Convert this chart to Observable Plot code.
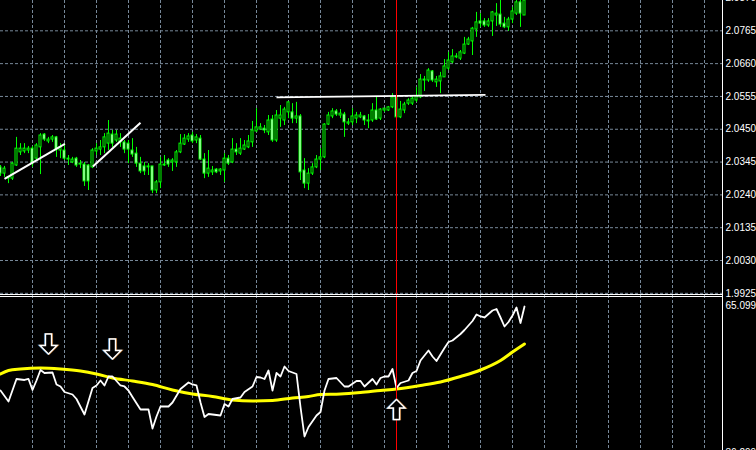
<!DOCTYPE html>
<html><head><meta charset="utf-8">
<script src="https://cdn.jsdelivr.net/npm/d3@7"></script>
<script src="https://cdn.jsdelivr.net/npm/@observablehq/plot@0.6"></script>
<style>
html,body{margin:0;padding:0;background:#000;width:756px;height:450px;overflow:hidden}
#top{position:relative;z-index:1;height:295px}
#bot{position:relative;z-index:0}
#top svg,#bot svg{display:block}
#top svg{overflow:visible}
</style></head><body>
<div id="top"></div><div id="bot"></div>
<script>
// ---- price candles (bar index 0..131) ----
const candleOpen = [2.0328,2.0308,2.0292,2.0292,2.0334,2.0376,2.0379,2.0382,2.0388,2.0356,2.0392,2.0433,2.0411,2.0417,2.0424,2.0382,2.0382,2.0353,2.0344,2.0356,2.0337,2.0337,2.0334,2.0328,2.0379,2.0385,2.0392,2.0404,2.0433,2.0414,2.0408,2.0408,2.0404,2.0382,2.0372,2.0340,2.0331,2.0328,2.0331,2.0254,2.0280,2.0334,2.0350,2.0344,2.0344,2.0376,2.0401,2.0417,2.0430,2.0414,2.0420,2.0353,2.0308,2.0312,2.0321,2.0315,2.0318,2.0356,2.0344,2.0385,2.0372,2.0385,2.0392,2.0408,2.0443,2.0449,2.0452,2.0440,2.0481,2.0414,2.0484,2.0478,2.0504,2.0504,2.0484,2.0491,2.0318,2.0276,2.0308,2.0328,2.0353,2.0360,2.0465,2.0491,2.0507,2.0494,2.0497,2.0468,2.0472,2.0484,2.0488,2.0491,2.0475,2.0478,2.0510,2.0484,2.0510,2.0510,2.0520,2.0555,2.0488,2.0510,2.0532,2.0532,2.0542,2.0552,2.0606,2.0606,2.0635,2.0600,2.0603,2.0616,2.0644,2.0664,2.0680,2.0676,2.0692,2.0721,2.0731,2.0769,2.0795,2.0795,2.0782,2.0795,2.0814,2.0817,2.0788,2.0776,2.0801,2.0820,2.0856,2.0814];
const candleHigh = [2.0334,2.0331,2.0299,2.0344,2.0424,2.0404,2.0404,2.0395,2.0395,2.0404,2.0436,2.0436,2.0424,2.0430,2.0427,2.0404,2.0404,2.0366,2.0360,2.0360,2.0350,2.0344,2.0337,2.0388,2.0404,2.0414,2.0436,2.0478,2.0446,2.0446,2.0436,2.0414,2.0414,2.0420,2.0392,2.0360,2.0344,2.0340,2.0331,2.0286,2.0360,2.0366,2.0356,2.0356,2.0382,2.0433,2.0433,2.0436,2.0440,2.0433,2.0430,2.0372,2.0382,2.0331,2.0324,2.0324,2.0372,2.0366,2.0420,2.0404,2.0420,2.0414,2.0430,2.0475,2.0516,2.0468,2.0462,2.0494,2.0494,2.0510,2.0526,2.0520,2.0539,2.0532,2.0536,2.0497,2.0356,2.0324,2.0340,2.0366,2.0388,2.0468,2.0504,2.0516,2.0513,2.0513,2.0504,2.0484,2.0516,2.0504,2.0504,2.0494,2.0497,2.0532,2.0552,2.0516,2.0516,2.0523,2.0564,2.0564,2.0539,2.0536,2.0548,2.0558,2.0584,2.0625,2.0619,2.0644,2.0638,2.0619,2.0632,2.0673,2.0696,2.0705,2.0692,2.0702,2.0744,2.0744,2.0776,2.0824,2.0820,2.0804,2.0804,2.0827,2.0852,2.0862,2.0808,2.0808,2.0840,2.0862,2.0862,2.0868];
const candleLow = [2.0299,2.0296,2.0276,2.0286,2.0331,2.0366,2.0372,2.0372,2.0328,2.0350,2.0305,2.0411,2.0404,2.0408,2.0360,2.0356,2.0350,2.0334,2.0340,2.0328,2.0324,2.0267,2.0254,2.0324,2.0366,2.0366,2.0372,2.0382,2.0392,2.0408,2.0392,2.0372,2.0340,2.0360,2.0328,2.0308,2.0302,2.0302,2.0244,2.0244,2.0260,2.0331,2.0328,2.0315,2.0328,2.0372,2.0398,2.0408,2.0404,2.0404,2.0350,2.0292,2.0296,2.0302,2.0308,2.0302,2.0280,2.0334,2.0340,2.0366,2.0366,2.0382,2.0388,2.0392,2.0440,2.0446,2.0436,2.0430,2.0408,2.0408,2.0456,2.0462,2.0484,2.0468,2.0468,2.0286,2.0260,2.0254,2.0302,2.0324,2.0318,2.0356,2.0462,2.0484,2.0491,2.0484,2.0424,2.0462,2.0462,2.0468,2.0484,2.0462,2.0452,2.0472,2.0478,2.0478,2.0504,2.0507,2.0516,2.0484,2.0484,2.0500,2.0526,2.0526,2.0536,2.0548,2.0571,2.0600,2.0600,2.0584,2.0564,2.0616,2.0638,2.0660,2.0676,2.0670,2.0689,2.0718,2.0686,2.0744,2.0776,2.0776,2.0776,2.0747,2.0779,2.0776,2.0772,2.0763,2.0788,2.0814,2.0776,2.0814];
const candleClose = [2.0308,2.0324,2.0296,2.0340,2.0388,2.0388,2.0388,2.0388,2.0340,2.0398,2.0430,2.0417,2.0417,2.0424,2.0385,2.0392,2.0356,2.0356,2.0353,2.0334,2.0340,2.0283,2.0283,2.0382,2.0388,2.0392,2.0424,2.0436,2.0404,2.0433,2.0420,2.0385,2.0385,2.0369,2.0340,2.0315,2.0315,2.0331,2.0254,2.0280,2.0337,2.0337,2.0337,2.0350,2.0376,2.0404,2.0420,2.0427,2.0411,2.0424,2.0353,2.0308,2.0324,2.0318,2.0312,2.0321,2.0356,2.0340,2.0385,2.0376,2.0388,2.0398,2.0411,2.0446,2.0456,2.0456,2.0446,2.0478,2.0414,2.0494,2.0494,2.0513,2.0536,2.0484,2.0491,2.0312,2.0276,2.0308,2.0328,2.0353,2.0360,2.0465,2.0494,2.0507,2.0497,2.0500,2.0472,2.0472,2.0491,2.0494,2.0494,2.0478,2.0478,2.0510,2.0481,2.0513,2.0516,2.0520,2.0552,2.0488,2.0513,2.0529,2.0542,2.0548,2.0555,2.0609,2.0609,2.0638,2.0606,2.0609,2.0619,2.0651,2.0670,2.0683,2.0683,2.0696,2.0721,2.0737,2.0772,2.0792,2.0788,2.0782,2.0795,2.0824,2.0820,2.0785,2.0776,2.0801,2.0827,2.0856,2.0820,2.0862];
const priceTicks = [2.0870, 2.0765, 2.0660, 2.0555, 2.0450, 2.0345, 2.0240, 2.0135, 2.0030, 1.9925];
const gridBars = [8,16,24,32,40,48,56,64,72,80,88,96,104,112,120,128,136,144,152,160,168,176];
const signalBar = 99;
// drawn trend lines (bar index, price)
const trendStartBar = [1, 23.1, 69];
const trendStartPrice = [2.0291, 2.0331, 2.0552];
const trendEndBar = [16.1, 35, 121.25];
const trendEndPrice = [2.0403, 2.0471, 2.0560];
// ---- indicator window ----
const rsiBar = [0,2,4,6,7,8,9,10,11,13,14,15,16,18,19,21,23,24,25,26,27,28,30,31,32,33,35,37,38,39,40,42,43,45,47,48,49,50,51,52,55,56,57,58,60,61,63,64,65,66,67,68,69,70,71,72,74,75,76,77,79,80,81,82,84,86,87,89,90,91,93,94,95,96,97,98,99,100,102,103,104,105,106,107,108,109,111,112,113,115,116,117,118,119,120,121,123,124,125,126,127,128,129,130,131];
const rsiValue = [48.3,46.1,50.6,50.4,50.6,48.4,50.3,52.4,51.8,51.9,49.5,49.1,48.0,47.5,46.6,43.5,48.8,49.3,50.3,49.3,51.1,51.1,49.3,49.1,48.3,47.0,44.5,44.5,40.7,43.1,45.1,45.1,45.9,48.6,49.9,49.5,49.3,45.9,43.0,43.6,43.3,45.6,45.1,46.6,46.9,48.0,49.1,51.0,50.9,50.6,52.3,48.3,51.8,51.1,53.1,52.2,51.6,45.0,39.1,41.0,43.3,44.0,48.3,50.6,50.8,49.1,49.1,50.2,50.2,49.1,50.6,49.5,50.8,51.1,51.1,52.6,48.8,49.8,50.3,51.8,52.2,54.3,55.3,56.3,55.1,54.2,56.8,58.0,58.3,59.6,60.4,61.3,62.2,63.5,63.1,62.9,64.3,64.6,62.9,61.1,62.0,63.3,64.9,61.8,65.0996];
const maBar = [0,2,5,10,15,20,24,28,33,38,43,48,53,58,63,68,73,77,80,85,90,95,99,105,110,115,120,125,128,131];
const maValue = [51.6,52.3,52.6,52.8,52.6,52.2,51.6,50.8,50.2,49.5,48.4,47.6,47.1,46.4,46.2,46.3,46.8,47.1,47.5,47.6,47.9,48.3,48.6,49.3,50.0,51.1,52.4,54.3,56.0,57.6];
const arrowBar = [12, 28, 99];
const arrowValue = [57.6, 56.6, 44.5];
const arrowDir = ["down", "down", "up"];
const indicatorMax = [65.0996];
const indicatorMin = [36.2996];

// ---- build tables ----
const candles = candleOpen.map((o, i) => ({i, open: o, high: candleHigh[i], low: candleLow[i], close: candleClose[i]}));
const bulls = candles.filter(d => d.close >= d.open);
const bears = candles.filter(d => d.close < d.open);
const trends = trendStartBar.map((b, i) => ({x1: b, y1: trendStartPrice[i], x2: trendEndBar[i], y2: trendEndPrice[i]}));
const rsi = rsiBar.map((b, i) => ({b, v: rsiValue[i]}));
const ma = maBar.map((b, i) => ({b, v: maValue[i]}));
const arrows = arrowBar.map((b, i) => ({b, v: arrowValue[i], dir: arrowDir[i]}));

const GRID = "#778899", LIME = "#00ff00";
const xScale = {domain: [0, 180.5], axis: null};
const baseStyle = {background: "#000", color: "#fff", fontFamily: "'Liberation Sans', Arial, sans-serif", fontSize: "10px"};
const common = {width: 756, marginLeft: 0, marginRight: 34, marginTop: 0, marginBottom: 0};
const axisOpts = {anchor: "right", tickSize: 0, tickPadding: 3, tickFormat: d => d.toFixed(4), fill: "#fff", label: null};

function arrowSymbol(up) {
  return {
    draw(ctx, size) {
      const s = Math.sqrt(size / Math.PI) / 10;
      const pts = [[-3, -10], [3, -10], [3, 1.5], [8.5, 1.5], [0, 10], [-8.5, 1.5], [-3, 1.5]];
      pts.forEach(([x, y], k) => {
        const xx = x * s, yy = (up ? -y : y) * s;
        k ? ctx.lineTo(xx, yy) : ctx.moveTo(xx, yy);
      });
      ctx.closePath();
    }
  };
}
function arrowMarks(dir) {
  const data = arrows.filter(d => d.dir === dir);
  const sym = arrowSymbol(dir === "up");
  return [
    Plot.dot(data, {x: "b", y: "v", r: 10, symbol: sym, stroke: "#5aa0e0", strokeOpacity: 0.75, fill: "none", dx: -0.8}),
    Plot.dot(data, {x: "b", y: "v", r: 10, symbol: sym, stroke: "#e8903a", strokeOpacity: 0.75, fill: "none", dx: 0.8}),
    Plot.dot(data, {x: "b", y: "v", r: 10, symbol: sym, stroke: "#fff", fill: "#000", strokeWidth: 1.4})
  ];
}

const topDomain = [2.0862 - 0.00032 * 295, 2.0862];
const topChart = Plot.plot({
  ...common, height: 295,
  style: {...baseStyle, overflow: "visible"},
  x: xScale,
  y: {domain: topDomain, axis: null, label: null},
  marks: [
    Plot.gridY(priceTicks, {stroke: GRID, strokeOpacity: 1, strokeDasharray: "3,2"}),
    Plot.gridX(gridBars, {stroke: GRID, strokeOpacity: 1, strokeDasharray: "3,2"}),
    Plot.ruleX(candles, {x: "i", y1: "low", y2: "high", stroke: LIME}),
    Plot.rect(bulls, {x1: d => d.i - 0.25, x2: d => d.i + 0.25, y1: "open", y2: "close", fill: "#000", stroke: LIME}),
    Plot.rect(bears, {x1: d => d.i - 0.25, x2: d => d.i + 0.25, y1: "open", y2: "close", fill: "#fff", stroke: LIME}),
    Plot.link(trends, {x1: "x1", y1: "y1", x2: "x2", y2: "y2", stroke: "#fff", strokeWidth: 2}),
    Plot.ruleX([signalBar], {stroke: "#ff0000"}),
    Plot.ruleY([topDomain[0]], {stroke: "#fff", dy: -1}),
    Plot.ruleX([180.5], {stroke: "#fff"}),
    Plot.axisY(priceTicks, axisOpts)
  ]
});
document.getElementById("top").append(topChart);

const botDomain = [36.2996, 67.2996];
const botChart = Plot.plot({
  ...common, height: 155,
  style: baseStyle,
  x: xScale,
  y: {domain: botDomain, axis: null, label: null},
  marks: [
    Plot.gridX(gridBars, {stroke: GRID, strokeOpacity: 1, strokeDasharray: "3,2"}),
    Plot.line(ma, {x: "b", y: "v", stroke: "#ffff00", strokeWidth: 3, curve: "monotone-x"}),
    Plot.line(rsi, {x: "b", y: "v", stroke: "#fff", strokeWidth: 1.8}),
    Plot.ruleX([signalBar], {stroke: "#ff0000"}),
    ...arrowMarks("down"),
    ...arrowMarks("up"),
    Plot.ruleY([botDomain[1]], {stroke: "#fff", dy: 1}),
    Plot.ruleX([180.5], {stroke: "#fff"}),
    Plot.axisY(indicatorMax, {...axisOpts, dy: -1}),
    Plot.axisY(indicatorMin, {...axisOpts, dy: 2})
  ]
});
document.getElementById("bot").append(botChart);
</script>
</body></html>
